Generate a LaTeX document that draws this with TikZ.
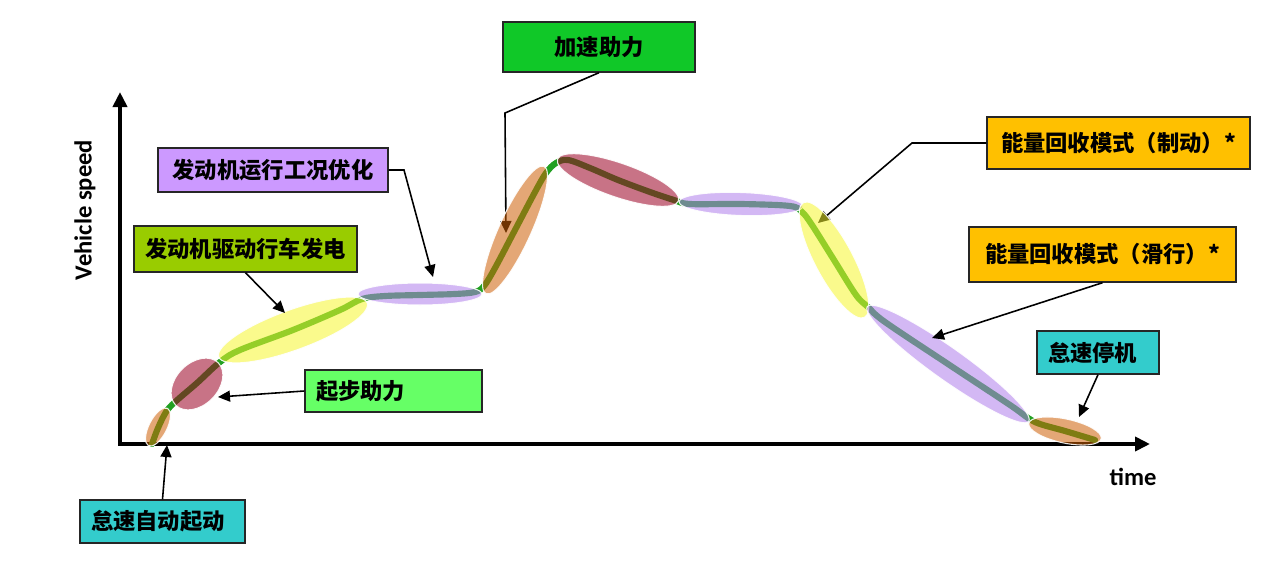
\documentclass[tikz,border=0pt]{standalone}
\usepackage{fontspec}
\setmainfont{Carlito}
\newfontfamily\cjk{Noto Sans CJK SC}
\usetikzlibrary{arrows.meta}
\definecolor{curveGreen}{HTML}{22A022}
\definecolor{segTan}{HTML}{CD5F05}
\definecolor{segRose}{HTML}{9B0023}
\definecolor{segYellow}{HTML}{F5F52D}
\definecolor{segLilac}{HTML}{AF7DEB}
\definecolor{boxGreen}{HTML}{10C828}
\definecolor{boxLilac}{HTML}{CC99FF}
\definecolor{boxOlive}{HTML}{99CC00}
\definecolor{boxLime}{HTML}{66FF66}
\definecolor{boxTeal}{HTML}{33CCCC}
\definecolor{boxGold}{HTML}{FFC000}

\begin{document}
\begin{tikzpicture}[x=0.2mm,y=-0.2mm,
    modebox/.style={draw=black!85,line width=0.8pt,inner xsep=0.22cm,inner ysep=0pt,
                    font=\cjk\bfseries\fontsize{12.7}{15}\selectfont,align=center},
    leftbox/.style={modebox,align=left},
    callout/.style={-{Triangle[length=2.4mm,width=2.2mm]},line width=0.9pt},
    axis/.style={line width=2.2pt,line join=miter,
                 {Triangle[length=3mm,width=2.8mm]}-{Triangle[length=3mm,width=2.8mm]}},
    speed/.style={curveGreen,line width=3.5pt,line cap=round},
    seg/.style={fill opacity=0.55,draw=white,draw opacity=0.9,line width=0.6pt},
    tanseg/.style={seg,fill=segTan},
    roseseg/.style={seg,fill=segRose},
    yellowseg/.style={seg,fill=segYellow},
    lilacseg/.style={seg,fill=segLilac}]
  \useasboundingbox (0,0) rectangle (1280,572);

  % mode labels
  \node[modebox,fill=boxGreen,minimum width=3.84cm,minimum height=1.0cm] (jiasu) at (599,47) {加速助力};
  \node[modebox,fill=boxLilac,minimum width=4.6cm,minimum height=0.88cm] (youhua) at (273,170) {发动机运行工况优化};
  \node[modebox,fill=boxOlive,minimum width=4.46cm,minimum height=0.92cm] (qudong) at (245.5,249) {发动机驱动行车发电};
  \node[leftbox,fill=boxLime,text width=3.1cm,minimum height=0.84cm] (qibu) at (393.5,391) {起步助力};
  \node[leftbox,fill=boxTeal,text width=2.86cm,minimum height=0.86cm] (qidong) at (162.5,521.5) {怠速自动起动};
  \node[modebox,fill=boxGold,minimum width=5.26cm,minimum height=1.04cm] (zhidong) at (1118.5,143) {能量回收模式（制动）*};
  \node[modebox,fill=boxGold,minimum width=5.34cm,minimum height=1.1cm] (huaxing) at (1102.5,254.5) {能量回收模式（滑行）*};
  \node[leftbox,fill=boxTeal,text width=2.0cm,minimum height=0.86cm] (tingji) at (1098,352.5) {怠速停机};

  % axes
  \coordinate (vtop) at (120,92);
  \coordinate (origin) at (120,444);
  \coordinate (htip) at (1150,444);
  \draw[axis] (vtop) -- (origin) -- (htip);
  \node[font=\bfseries\fontsize{14}{16}\selectfont,rotate=90] (vlabel) at (85,210) {Vehicle speed};
  \node[font=\bfseries\fontsize{14}{16}\selectfont] (tlabel) at (1133,477) {time};

  % speed profile
  \draw[speed] plot[smooth,tension=0.55] coordinates {
    (152,444) (158,428) (166,412) (175,402) (197,383) (220,362) (240,350)
    (293,330) (340,310) (362,299) (385,296) (420,295) (455,294) (475,292)
    (484,286) (495,268) (515,230) (535,192) (546,173) (556,163) (568,160)
    (590,168) (618,180) (650,192) (674,200) (690,204) (741,204) (790,206)
    (802,212) (812,225) (834,260) (856,295) (868,307) (885,322) (948,364)
    (1010,405) (1028,418) (1040,424) (1065,431) (1095,440)};

  % tips of the callouts
  \coordinate (jbend) at (505,113);
  \coordinate (jtip) at (506,233);
  \coordinate (zbend) at (912,143);
  \coordinate (ztip) at (818,223);
  \coordinate (ybend) at (404,170);
  \coordinate (ytip) at (433,277);
  \coordinate (qdtip) at (285,313);
  \coordinate (qbtip) at (218,397);
  \coordinate (qitip) at (167,445);
  \coordinate (htip2) at (932,338);
  \coordinate (ttip) at (1079,417);

  \draw[callout] (jiasu.south) -- (jbend) -- (jtip);
  \draw[callout] (zhidong.west) -- (zbend) -- (ztip);

  % operating phases
  \foreach \cx/\cy/\ra/\rb/\ang/\kind in {
      158/427/21/9/63/tanseg, 197/384/30/21/45/roseseg, 293/330/79/20/20/yellowseg,
      420/294/62/11/0/lilacseg, 515/230/70/16/65.5/tanseg, 618/180/64/17/-19/roseseg,
      741/204/62/11.5/-2/lilacseg, 834/260/65/19/-62/yellowseg,
      948/364/99/16/-35.4/lilacseg, 1065/431/37/12/-12/tanseg}
    \draw[\kind,rotate around={\ang:(\cx,\cy)}] (\cx,\cy) ellipse [x radius=\ra,y radius=\rb];

  \draw[callout] (youhua.east) -- (ybend) -- (ytip);
  \draw[callout] (qudong.south) -- (qdtip);
  \draw[callout] (qibu.west) -- (qbtip);
  \draw[callout] (qidong.north) -- (qitip);
  \draw[callout] (huaxing.south) -- (htip2);
  \draw[callout] (tingji.south) -- (ttip);
\end{tikzpicture}
\end{document}
